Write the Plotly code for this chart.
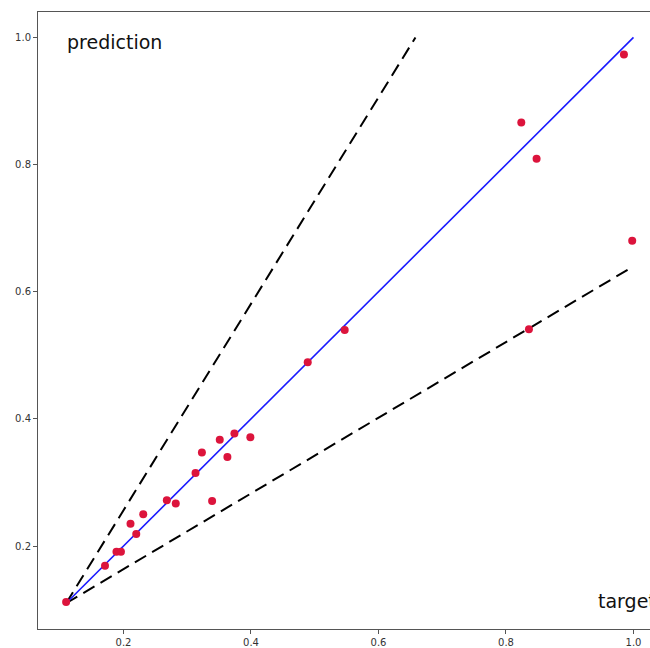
import plotly.graph_objects as go

# data
target = [0.110, 0.171, 0.189, 0.196, 0.211, 0.220, 0.231, 0.268, 0.282, 0.313,
          0.323, 0.339, 0.351, 0.363, 0.374, 0.399, 0.489, 0.547, 0.824, 0.848,
          0.836, 0.985, 0.998]
prediction = [0.112, 0.169, 0.191, 0.191, 0.235, 0.219, 0.250, 0.272, 0.267, 0.315,
              0.347, 0.271, 0.367, 0.340, 0.377, 0.371, 0.489, 0.540, 0.866, 0.809,
              0.541, 0.973, 0.680]

ideal_x = [0.11, 1.0]
ideal_y = [0.11, 1.0]
upper_x = [0.11, 0.658]
upper_y = [0.11, 1.0]
lower_x = [0.11, 1.0]
lower_y = [0.11, 0.640]

xtick_vals = [0.2, 0.4, 0.6, 0.8, 1.0]
xtick_text = ["0.2", "0.4", "0.6", "0.8", "1.0"]
ytick_vals = [0.2, 0.4, 0.6, 0.8, 1.0]
ytick_text = ["0.2", "0.4", "0.6", "0.8", "1.0"]

fig = go.Figure()
fig.add_trace(go.Scatter(x=upper_x, y=upper_y, mode="lines",
                         line=dict(color="black", width=2, dash="13px,7px"),
                         hoverinfo="skip"))
fig.add_trace(go.Scatter(x=lower_x, y=lower_y, mode="lines",
                         line=dict(color="black", width=2, dash="13px,7px"),
                         hoverinfo="skip"))
fig.add_trace(go.Scatter(x=ideal_x, y=ideal_y, mode="lines",
                         line=dict(color="#1a1aff", width=1.6)))
fig.add_trace(go.Scatter(x=target, y=prediction, mode="markers",
                         marker=dict(color="#DC143C", size=8, line=dict(width=0))))

fig.add_annotation(x=0.108, y=0.993, xref="x", yref="y", text="prediction",
                   showarrow=False, xanchor="left", yanchor="middle",
                   font=dict(family="DejaVu Sans", size=19, color="#111"))
fig.add_annotation(x=0.941, y=0.1136, xref="x", yref="y", text="target",
                   showarrow=False, xanchor="left", yanchor="middle",
                   font=dict(family="DejaVu Sans", size=19, color="#111"))

axis_common = dict(showgrid=False, zeroline=False, showline=True,
                   linecolor="#555", linewidth=1, ticks="outside", ticklen=4,
                   tickcolor="#555", tickfont=dict(family="DejaVu Sans", size=10, color="#333"))

fig.update_layout(
    width=650, height=648,
    margin=dict(l=38, r=0, t=12, b=19),
    paper_bgcolor="white", plot_bgcolor="white",
    showlegend=False,
    xaxis=dict(range=[0.0659, 1.0259], tickvals=xtick_vals, ticktext=xtick_text,
               mirror=True, **axis_common),
    yaxis=dict(range=[0.0695, 1.040], tickvals=ytick_vals, ticktext=ytick_text,
               mirror=False, **axis_common),
)

fig.write_html(
    "out.html",
    config={"displayModeBar": False},
    post_script="document.body.style.margin='0';document.body.style.overflow='hidden';",
)
